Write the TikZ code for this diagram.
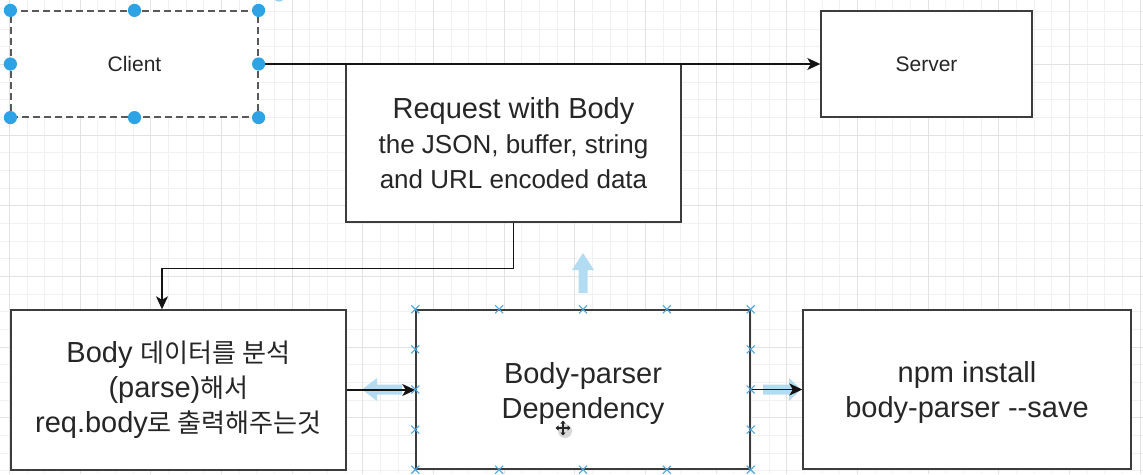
\documentclass[tikz,border=0pt]{standalone}
\usepackage{fontspec}
\setmainfont{Liberation Sans}
\newfontfamily\krfont[Scale=0.9]{Noto Sans CJK KR}
\usetikzlibrary{arrows.meta,calc}
\definecolor{gridminor}{HTML}{F1F1F1}
\definecolor{gridmajor}{HTML}{E2E2E2}
\definecolor{boxline}{HTML}{3C3C3C}
\definecolor{txt}{HTML}{262626}
\definecolor{handle}{HTML}{2DA3E6}
\definecolor{hint}{HTML}{B3DCF3}
\definecolor{cpoint}{HTML}{4FA6DD}
\begin{document}
\begin{tikzpicture}[x=1pt,y=-1pt,
  box/.style={draw=boxline,line width=1.4pt,fill=white,inner sep=0pt,align=center,text=txt},
  bigfont/.style={font=\fontsize{29}{35}\selectfont},
  smallfont/.style={font=\fontsize{21}{25}\selectfont},
  conn/.style={draw=black!92,line width=1.4pt,-{Stealth[length=13pt,width=12pt,inset=3.5pt]}},
  handledot/.style={fill=handle,draw=none},
  hintarrow/.style={fill=hint,draw=none},
  cpmark/.style={draw=cpoint,line width=1.1pt}]
\clip (0,0) rectangle (1143,474);
\fill[white] (0,0) rectangle (1143,474);
% grid
\foreach \k in {-1,...,65} \draw[gridminor,line width=0.8pt] ({9.5+17.667*\k},0) -- ({9.5+17.667*\k},474);
\foreach \k in {-4,...,24} \draw[gridminor,line width=0.8pt] (0,{64.5+17.667*\k}) -- (1143,{64.5+17.667*\k});
\foreach \k in {0,4,...,64} \draw[gridmajor,line width=0.9pt] ({9.5+17.667*\k},0) -- ({9.5+17.667*\k},474);
\foreach \k in {-4,0,...,24} \draw[gridmajor,line width=0.9pt] (0,{64.5+17.667*\k}) -- (1143,{64.5+17.667*\k});

% boxes
\node[box,smallfont,minimum width=247pt,minimum height=106pt,draw=black!65,line width=1.2pt,dash pattern=on 7pt off 4pt] (client) at (134.5,64) {Client};
\node[box,smallfont,minimum width=211pt,minimum height=106pt] (server) at (926.5,64) {Server};
\node[box,font=\fontsize{26}{35}\selectfont,minimum width=335pt,minimum height=158pt] (request) at (513.5,143)
  {{\fontsize{29}{35}\selectfont Request with Body}\\the JSON, buffer, string\\and URL encoded data};
\node[box,bigfont,minimum width=335pt,minimum height=160pt] (body) at (178.5,390)
  {Body {\krfont 데이터를 분석}\\(parse){\krfont 해서}\\req.body{\krfont 로 출력해주는것}};
\node[box,bigfont,minimum width=334pt,minimum height=159pt] (bp) at (583,389.5) {\rule{0pt}{30pt}Body-parser\\Dependency};
\node[box,bigfont,minimum width=328pt,minimum height=159pt] (npm) at (967,389.5) {\rule{0pt}{28pt}npm install\\body-parser -{}-save};

% hint arrows
\fill[hintarrow] (578.5,293) -- (578.5,270) -- (572,270) -- (583,253) -- (594,270) -- (587.5,270) -- (587.5,293) -- cycle;
\fill[hintarrow] (402,384.5) -- (377,384.5) -- (377,378) -- (362,389.5) -- (377,401) -- (377,394.5) -- (402,394.5) -- cycle;
\fill[hintarrow] (763,384.5) -- (789,384.5) -- (789,378) -- (801,389.5) -- (789,401) -- (789,394.5) -- (763,394.5) -- cycle;

% connectors
\draw[conn] (client.east) -- (server.west);
\draw[conn] (request.south) -- ++(0,46) -| ([xshift=-16.5pt]body.north);
\draw[conn] (body.east) -- (body.east -| bp.west);
\draw[conn] (bp.east) -- (npm.west);

% selection handles on client
\foreach \a in {north west,north,north east,west,east,south west,south,south east}
  \fill[handledot] (client.\a) circle (6.6pt);
\fill[handledot,opacity=0.5] (279,-5) circle (6.6pt);

% connection points on Body-parser
\foreach \f in {0,0.25,0.5,0.75,1} {
  \draw[cpmark] ($(bp.north west)!\f!(bp.north east)+(-4,-4)$) -- ++(8,8);
  \draw[cpmark] ($(bp.north west)!\f!(bp.north east)+(-4,4)$) -- ++(8,-8);
  \draw[cpmark] ($(bp.south west)!\f!(bp.south east)+(-4,-4)$) -- ++(8,8);
  \draw[cpmark] ($(bp.south west)!\f!(bp.south east)+(-4,4)$) -- ++(8,-8);
}
\foreach \f in {0.25,0.5,0.75} {
  \draw[cpmark] ($(bp.north west)!\f!(bp.south west)+(-4,-4)$) -- ++(8,8);
  \draw[cpmark] ($(bp.north west)!\f!(bp.south west)+(-4,4)$) -- ++(8,-8);
  \draw[cpmark] ($(bp.north east)!\f!(bp.south east)+(-4,-4)$) -- ++(8,8);
  \draw[cpmark] ($(bp.north east)!\f!(bp.south east)+(-4,4)$) -- ++(8,-8);
}

% move cursor
\fill[black!25,opacity=0.6] (565,431) circle (7pt);
\draw[txt,line width=1.1pt,{Triangle[length=3pt,width=5pt]}-{Triangle[length=3pt,width=5pt]}] (555.5,428) -- (570.5,428);
\draw[txt,line width=1.1pt,{Triangle[length=3pt,width=5pt]}-{Triangle[length=3pt,width=5pt]}] (563,420.5) -- (563,435.5);
\end{tikzpicture}
\end{document}
